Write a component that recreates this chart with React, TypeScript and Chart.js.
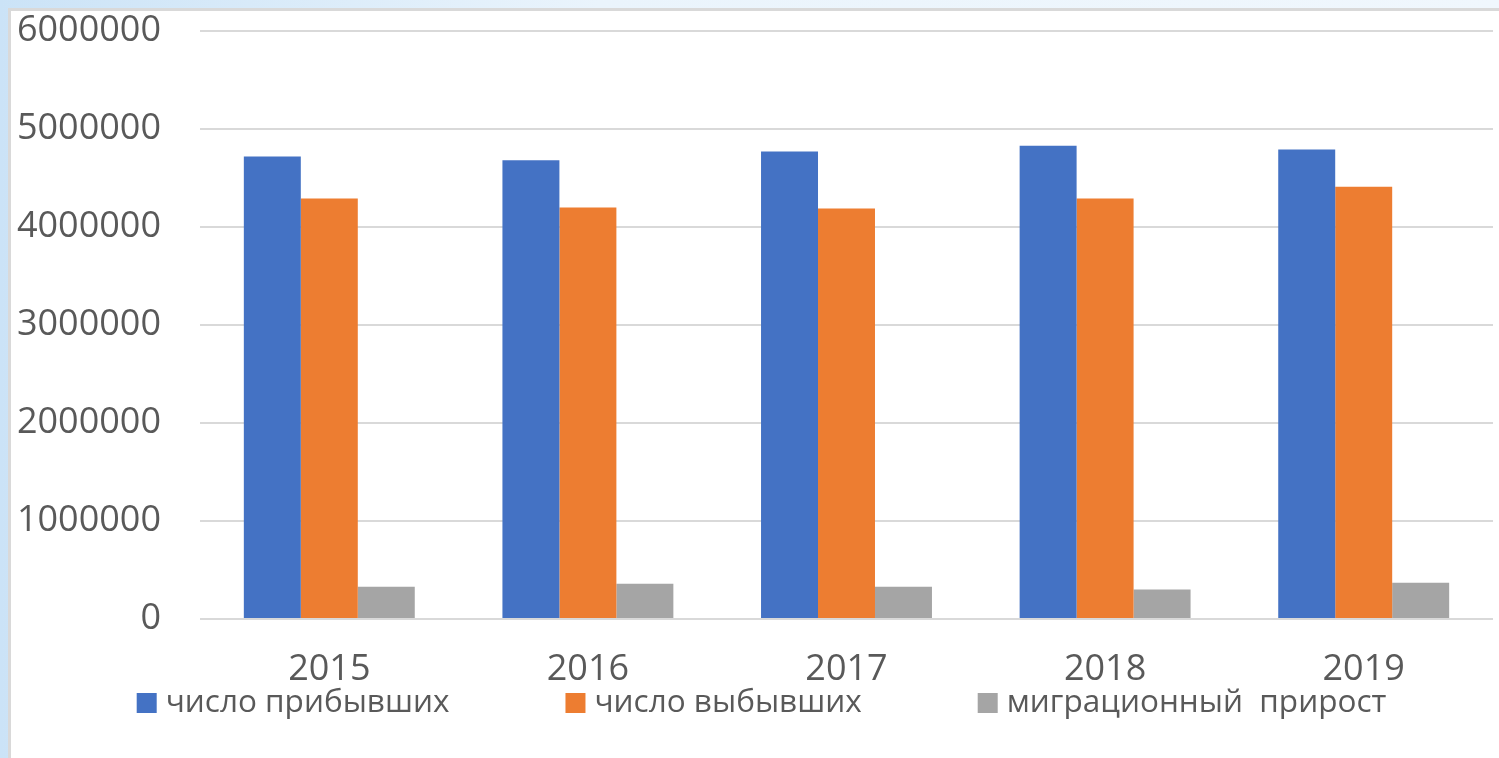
import React, { useEffect, useRef } from "react";
import { Chart, registerables } from "chart.js";

Chart.register(...registerables);

const years: string[] = ["2015", "2016", "2017", "2018", "2019"];
const arrived: number[] = [4720000, 4680000, 4770000, 4830000, 4790000];
const departed: number[] = [4290000, 4200000, 4190000, 4290000, 4410000];
const migration: number[] = [330000, 360000, 330000, 300000, 370000];
const seriesNames: string[] = ["число прибывших", "число выбывших", "миграционный  прирост"];
const yMin = 0;
const yMax = 6000000;
const yStep = 1000000;

const COLORS = ["#4472C4", "#ED7D31", "#A5A5A5"];
const TEXT = "#595959";
const FONT = '"Open Sans", "Noto Sans", sans-serif';

const customLegend = {
  id: "customLegend",
  afterDraw(chart: any) {
    const ctx = chart.ctx;
    ctx.save();
    ctx.font = `31.5px ${FONT}`;
    const box = 20;
    const gapText = 9;
    const gapItem = 116;
    const items = chart.data.datasets.map((d: any) => ({
      text: d.label,
      color: d.backgroundColor,
      w: box + gapText + ctx.measureText(d.label).width,
    }));
    const total = items.reduce((s: number, it: any) => s + it.w, 0) + gapItem * (items.length - 1);
    let x = 750.5 - total / 2;
    const boxTop = 682;
    const baseline = 701;
    items.forEach((it: any) => {
      ctx.fillStyle = it.color;
      ctx.fillRect(x, boxTop, box, box);
      ctx.fillStyle = TEXT;
      ctx.textBaseline = "alphabetic";
      ctx.textAlign = "left";
      ctx.fillText(it.text, x + box + gapText, baseline);
      x += it.w + gapItem;
    });
    ctx.restore();
  },
};

export default function App() {
  const ref = useRef<HTMLCanvasElement | null>(null);

  useEffect(() => {
    if (!ref.current) return;
    const chart = new Chart(ref.current, {
      type: "bar",
      data: {
        labels: years,
        datasets: [
          { label: seriesNames[0], data: arrived, backgroundColor: COLORS[0] },
          { label: seriesNames[1], data: departed, backgroundColor: COLORS[1] },
          { label: seriesNames[2], data: migration, backgroundColor: COLORS[2] },
        ],
      },
      options: {
        responsive: false,
        animation: false,
        layout: { autoPadding: false, padding: { left: 0, right: 6, top: 20, bottom: 70 } },
        datasets: {
          bar: { barPercentage: 1, categoryPercentage: 0.661 },
        },
        plugins: {
          legend: { display: false },
          tooltip: { enabled: false },
        },
        scales: {
          x: {
            grid: { display: false, drawTicks: false },
            border: { display: false },
            ticks: {
              color: TEXT,
              font: { family: FONT, size: 36 },
              padding: 29,
            },
            afterFit: (s: any) => {
              s.height = 69;
              s.paddingLeft = 0;
              s.paddingRight = 0;
            },
          },
          y: {
            min: yMin,
            max: yMax,
            grid: { color: "#d9d9d9", lineWidth: 2, drawTicks: false },
            border: { display: false },
            ticks: {
              stepSize: yStep,
              color: TEXT,
              font: { family: FONT, size: 36 },
              padding: 39,
              callback: (v: any) => String(v),
            },
            afterFit: (s: any) => {
              s.width = 189;
              s.paddingTop = 0;
              s.paddingBottom = 0;
            },
          },
        },
      },
      plugins: [customLegend],
    });
    return () => chart.destroy();
  }, []);

  return (
    <div
      style={{
        position: "fixed",
        left: 0,
        top: 0,
        width: 1499,
        height: 758,
        background: "linear-gradient(to right, #cbe3f7, #eaf4fc 40%, #f0f7fd)",
        overflow: "hidden",
      }}
    >
      <div
        style={{
          position: "absolute",
          left: 8,
          top: 8,
          right: 0,
          bottom: 0,
          background: "#ffffff",
          borderLeft: "3px solid #d9d9d9",
          borderTop: "3px solid #d9d9d9",
        }}
      >
        <canvas ref={ref} width={1488} height={747} style={{ display: "block" }} />
      </div>
    </div>
  );
}
